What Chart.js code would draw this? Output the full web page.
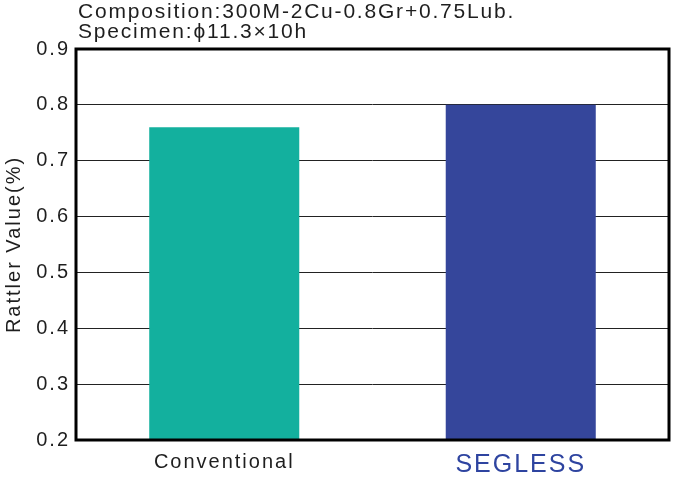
<!DOCTYPE html>
<html>
<head>
<meta charset="utf-8">
<script src="https://cdn.jsdelivr.net/npm/chart.js@4"></script>
<style>
  html, body { margin: 0; padding: 0; background: #fff; }
  #wrap { width: 690px; height: 494px; }
</style>
</head>
<body>
<div id="wrap"><canvas id="rattlerChart" width="690" height="494"></canvas></div>
<script>
const categories = ['Conventional', 'SEGLESS'];
const rattlerValues = [0.76, 0.80];
const barColors = ['#13b09e', '#35469b'];
const labelColors = ['#1e1e1e', '#2e44a0'];
const titleLines = ['Composition:300M-2Cu-0.8Gr+0.75Lub.', 'Specimen:\u03d511.3\u00d710h'];
const yMin = 0.2, yMax = 0.9, yStep = 0.1;

const FONT = '"Liberation Sans", Arial, sans-serif';
Chart.defaults.font.family = FONT;
Chart.defaults.color = '#1e1e1e';

// wide letters like the original typeface (canvas resize wipes ctx state, so set it each pass)
const spacingPlugin = {
    id: 'letterSpacing',
    beforeLayout: (chart) => { chart.ctx.letterSpacing = '2px'; },
    beforeDraw: (chart) => { chart.ctx.letterSpacing = '2px'; }
};

// header text + thick frame round the plot
const framePlugin = {
    id: 'frame',
    afterDraw: (chart) => {
        const { ctx, chartArea: { left, top, right, bottom } } = chart;
        ctx.save();
        ctx.lineWidth = 3;
        ctx.strokeStyle = '#000';
        ctx.strokeRect(left, top, right - left, bottom - top);
        ctx.fillStyle = '#1e1e1e';
        ctx.font = '21px ' + FONT;
        ctx.letterSpacing = '1.8px';
        ctx.textAlign = 'left';
        ctx.textBaseline = 'alphabetic';
        ctx.fillText(titleLines[0], left + 2, 18);
        ctx.fillText(titleLines[1], left + 2, 38);
        ctx.restore();
    }
};

new Chart(document.getElementById('rattlerChart').getContext('2d'), {
    type: 'bar',
    data: {
        labels: categories,
        datasets: [{ data: rattlerValues, backgroundColor: barColors, borderWidth: 0, barPercentage: 0.506, categoryPercentage: 1 }]
    },
    plugins: [spacingPlugin, framePlugin],
    options: {
        responsive: false, animation: false,
        layout: { padding: { top: 49, right: 21, left: 0, bottom: 0 } },
        plugins: { legend: { display: false }, tooltip: { enabled: false } },
        scales: {
            x: {
                grid: { display: false },
                border: { display: false },
                afterFit: s => { s.height = 54; },
                ticks: {
                    padding: 2,
                    color: c => labelColors[c.index],
                    font: c => ({ size: c.index === 1 ? 25 : 20 })
                }
            },
            y: {
                min: yMin, max: yMax,
                grid: { color: '#222', lineWidth: 1, drawTicks: false },
                border: { display: false },
                afterFit: s => { s.width = 76; },
                ticks: { stepSize: yStep, padding: 6, font: { size: 20 }, callback: v => v.toFixed(1) },
                title: { display: true, text: 'Rattler Value(%)', font: { size: 20 }, padding: { top: 2, bottom: 0 } }
            }
        }
    }
});
</script>
</body>
</html>
